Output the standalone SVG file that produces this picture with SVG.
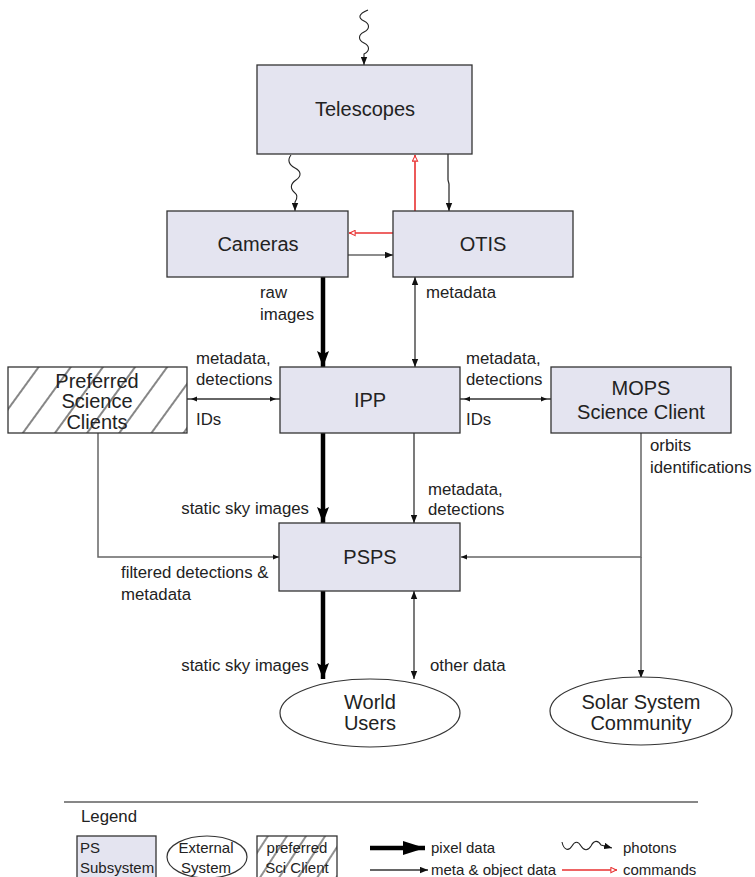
<svg xmlns="http://www.w3.org/2000/svg" width="755" height="877" viewBox="0 0 755 877">
<style>
.box{fill:#e4e4f0;stroke:#333;stroke-width:1.3}
.hb{stroke:#333;stroke-width:1.3}
.ell{fill:#fff;stroke:#333;stroke-width:1.2}
.nt{font-family:"Liberation Sans",Arial,sans-serif;font-size:20px;fill:#222;text-anchor:middle}
.lb{font-family:"Liberation Sans",Arial,sans-serif;font-size:16.8px;fill:#222}
.lg{font-family:"Liberation Sans",Arial,sans-serif;font-size:15px;fill:#222}
.end{text-anchor:end}
.mid{text-anchor:middle}
.thin{fill:none;stroke:#333;stroke-width:1.3}
.gray{fill:none;stroke:#666;stroke-width:1.5}
.thick{fill:none;stroke:#000;stroke-width:4.5}
.red{fill:none;stroke:#e83030;stroke-width:1.6}
.wave{fill:none;stroke:#222;stroke-width:1.1}
</style>
<defs>
<pattern id="hatch" width="26" height="26" patternUnits="userSpaceOnUse" patternTransform="rotate(36)"><rect width="26" height="26" fill="#fff"/><line x1="13" y1="0" x2="13" y2="26" stroke="#222" stroke-width="1.1"/></pattern>
<pattern id="hatch2" width="16" height="16" patternUnits="userSpaceOnUse" patternTransform="rotate(33)"><rect width="16" height="16" fill="#fff"/><line x1="8" y1="0" x2="8" y2="16" stroke="#222" stroke-width="1"/></pattern>
<marker id="ah" viewBox="0 0 10 8" refX="10" refY="4" markerWidth="8" markerHeight="7" markerUnits="userSpaceOnUse" orient="auto-start-reverse"><path d="M0,0 L10,4 L0,8 z" fill="#111"/></marker>
<marker id="ahS" viewBox="0 0 6 6" refX="6" refY="3" markerWidth="6" markerHeight="6" markerUnits="userSpaceOnUse" orient="auto-start-reverse"><path d="M0,0.5 L6,3 L0,5.5 z" fill="#111"/></marker>
<marker id="ahSg" viewBox="0 0 6 6" refX="10" refY="3" markerWidth="6" markerHeight="6" markerUnits="userSpaceOnUse" orient="auto-start-reverse"><path d="M0,0.5 L6,3 L0,5.5 z" fill="#111"/></marker>
<marker id="ahT" viewBox="0 0 16 12" refX="16" refY="6" markerWidth="16" markerHeight="13" markerUnits="userSpaceOnUse" orient="auto"><path d="M0,0 L16,6 L0,12 L3,6 z" fill="#000"/></marker>
<marker id="ahL" viewBox="0 0 22 14" refX="22" refY="7" markerWidth="22" markerHeight="14" markerUnits="userSpaceOnUse" orient="auto"><path d="M0,0 L22,7 L0,14 z" fill="#000"/></marker>
<marker id="ahR" viewBox="0 0 8 8" refX="8" refY="4" markerWidth="7" markerHeight="7" markerUnits="userSpaceOnUse" orient="auto"><path d="M1,1 L7,4 L1,7 z" fill="#fff" stroke="#e83030" stroke-width="1.2"/></marker>
</defs>

<g id="connectors">
<path class="wave" d="M368,10 C358,14 358,18 364,21 C370,24 370,29 364,32 C358,35 358,40 364,43 C370,46 370,51 364,54 L364,65" marker-end="url(#ah)"/>
<path class="wave" d="M291,155 C287,160 289,165 295,168 C301,171 302,176 296,180 C290,184 290,189 295,193 C299,196 296,200 295,202 L295,211" marker-end="url(#ah)"/>
<path class="red" d="M415,211 V155" marker-end="url(#ahR)"/>
<path class="thin" d="M448,154 V180 L449,184 V211" marker-end="url(#ah)"/>
<path class="red" d="M393,233 H349" marker-end="url(#ahR)"/>
<path class="gray" d="M348,255 H393" marker-end="url(#ah)"/>
<path class="thick" d="M323,277 V367" marker-end="url(#ahT)"/>
<path class="thin" d="M415,277 V367" marker-start="url(#ah)" marker-end="url(#ah)"/>
<path class="thin" d="M187,399 H280" marker-start="url(#ahSg)" marker-end="url(#ahSg)"/>
<path class="thin" d="M460,399 H551" marker-start="url(#ahSg)" marker-end="url(#ahSg)"/>
<path class="thick" d="M323,433 V523" marker-end="url(#ahT)"/>
<path class="thin" d="M414,433 V523" marker-end="url(#ah)"/>
<path class="gray" d="M98,433 V557 H279" marker-end="url(#ahS)"/>
<path class="gray" d="M641,433 V557 H461" marker-end="url(#ahS)"/>
<path class="gray" d="M641,557 V678" marker-end="url(#ah)"/>
<path class="thick" d="M323,591 V679" marker-end="url(#ahT)"/>
<path class="thin" d="M414,591 V679" marker-start="url(#ah)" marker-end="url(#ah)"/>
</g>

<g id="labels">
<text class="lb" x="260" y="298">raw</text>
<text class="lb" x="260" y="320">images</text>
<text class="lb" x="426" y="298">metadata</text>
<text class="lb" x="196" y="364">metadata,</text>
<text class="lb" x="196" y="385">detections</text>
<text class="lb" x="196" y="425">IDs</text>
<text class="lb" x="466" y="364">metadata,</text>
<text class="lb" x="466" y="385">detections</text>
<text class="lb" x="466" y="425">IDs</text>
<text class="lb" x="650" y="451">orbits</text>
<text class="lb" x="650" y="473">identifications</text>
<text class="lb end" x="309" y="514">static sky images</text>
<text class="lb" x="428" y="495">metadata,</text>
<text class="lb" x="428" y="515">detections</text>
<text class="lb" x="121" y="578">filtered detections &amp;</text>
<text class="lb" x="121" y="600">metadata</text>
<text class="lb end" x="309" y="671">static sky images</text>
<text class="lb" x="430" y="671">other data</text>
</g>

<g id="node-telescopes"><rect class="box" x="257" y="65" width="215" height="89"/><text class="nt" x="365" y="116">Telescopes</text></g>
<g id="node-cameras"><rect class="box" x="167" y="211" width="181" height="66"/><text class="nt" x="258" y="251">Cameras</text></g>
<g id="node-otis"><rect class="box" x="393" y="211" width="180" height="66"/><text class="nt" x="483" y="251">OTIS</text></g>
<g id="node-preferred"><rect class="hb" fill="url(#hatch)" x="8" y="367" width="179" height="66"/><text class="nt" x="97" y="388">Preferred</text><text class="nt" x="97" y="408">Science</text><text class="nt" x="97" y="429">Clients</text></g>
<g id="node-ipp"><rect class="box" x="280" y="367" width="180" height="66"/><text class="nt" x="370" y="407">IPP</text></g>
<g id="node-mops"><rect class="box" x="551" y="367" width="180" height="66"/><text class="nt" x="641" y="395">MOPS</text><text class="nt" x="641" y="419">Science Client</text></g>
<g id="node-psps"><rect class="box" x="279" y="523" width="181" height="68"/><text class="nt" x="370" y="564">PSPS</text></g>
<g id="node-world"><ellipse class="ell" cx="370" cy="713" rx="90" ry="34"/><text class="nt" x="370" y="709">World</text><text class="nt" x="370" y="730">Users</text></g>
<g id="node-solar"><ellipse class="ell" cx="641" cy="711" rx="91" ry="34"/><text class="nt" x="641" y="709">Solar System</text><text class="nt" x="641" y="730">Community</text></g>

<g id="legend">
<line x1="64" y1="802" x2="698" y2="802" stroke="#111" stroke-width="1.2"/>
<text class="lb" x="81" y="822">Legend</text>
<rect class="box" x="77" y="836" width="79" height="50"/>
<text class="lg" x="80" y="853">PS</text><text class="lg" x="80" y="873">Subsystem</text>
<ellipse class="ell" cx="207" cy="857" rx="40" ry="21"/>
<text class="lg mid" x="206" y="853">External</text><text class="lg mid" x="206" y="873">System</text>
<rect class="hb" fill="url(#hatch2)" x="257" y="836" width="80" height="50"/>
<text class="lg mid" x="297" y="853">preferred</text><text class="lg mid" x="297" y="873">Sci Client</text>
<path class="thick" d="M370,848 H425" marker-end="url(#ahL)"/>
<text class="lg" x="431" y="853">pixel data</text>
<path class="thin" d="M370,870 H428" marker-end="url(#ah)"/>
<text class="lg" x="431" y="875">meta &amp; object data</text>
<path class="wave" d="M562,842 C564,851 569,851 572,846 C575,841 578,841 581,846 C584,851 588,851 591,846 C594,840 598,840 601,845 L612,848" marker-end="url(#ah)"/>
<text class="lg" x="623" y="853">photons</text>
<path class="red" d="M562,870 H617" marker-end="url(#ahR)"/>
<text class="lg" x="623" y="875">commands</text>
</g>
</svg>
